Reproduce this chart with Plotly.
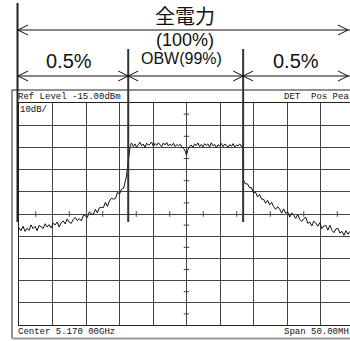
import plotly.graph_objects as go

# ---------------- data ----------------
# left skirt
skirt_l_f = [
    -25.0, -24.7, -24.4, -24.1, -23.8, -23.5, -23.2, -22.9, -22.6, -22.3,
    -22.0, -21.7, -21.4, -21.1, -20.8, -20.5, -20.2, -19.9, -19.6, -19.3,
    -19.0, -18.7, -18.4, -18.1, -17.8, -17.5, -17.2, -16.9, -16.6, -16.3,
    -16.0, -15.7, -15.4, -15.1, -14.8, -14.5, -14.2, -13.9, -13.6, -13.3,
    -13.0, -12.7, -12.4, -12.1, -11.8, -11.5, -11.2, -10.9, -10.6, -10.3,
    -10.0, -9.7, -9.4, -9.2, -9.0, -8.85, -8.7, -8.55, -8.4,
]
skirt_l_db = [
    -71.2, -72.5, -70.5, -72.8, -71.4, -72.4, -69.9, -71.6, -70.6, -72.5,
    -70.1, -70.7, -71.5, -69.4, -70.9, -69.8, -71.3, -69.2, -69.9, -68.6,
    -70.9, -68.9, -68.1, -69.5, -67.2, -68.8, -69.2, -67.4, -66.6, -68.0,
    -67.1, -68.1, -65.7, -65.8, -66.6, -64.0, -65.0, -65.1, -62.9, -64.5,
    -62.2, -62.0, -62.1, -59.7, -61.6, -59.1, -57.9, -58.3, -58.0, -55.2,
    -56.0, -53.8, -53.4, -51.0, -48.6, -45.2, -40.6, -36.4, -34.2,
]
# occupied band (flat top)
band_f = [
    -8.2, -7.95, -7.7, -7.45, -7.2, -6.95, -6.7, -6.45, -6.2, -5.95,
    -5.7, -5.45, -5.2, -4.95, -4.7, -4.45, -4.2, -3.95, -3.7, -3.45,
    -3.2, -2.95, -2.7, -2.45, -2.2, -1.95, -1.7, -1.45, -1.2, -0.95,
    -0.7, -0.45, -0.2, 0.0, 0.2, 0.45, 0.7, 0.95, 1.2, 1.45,
    1.7, 1.95, 2.2, 2.45, 2.7, 2.95, 3.2, 3.45, 3.7, 3.95,
    4.2, 4.45, 4.7, 4.95, 5.2, 5.45, 5.7, 5.95, 6.2, 6.45,
    6.7, 6.95, 7.2, 7.45, 7.7, 7.95, 8.2, 8.4,
]
band_db = [
    -33.0, -34.6, -33.4, -34.9, -33.8, -32.7, -34.3, -33.5, -35.0, -33.1,
    -34.0, -33.6, -32.6, -34.5, -33.2, -34.1, -32.9, -33.8, -34.7, -33.0,
    -33.9, -32.8, -34.4, -33.5, -34.2, -33.1, -34.6, -33.7, -34.3, -33.6,
    -34.9, -35.3, -36.6, -38.6, -36.0, -34.7, -33.9, -35.0, -33.5, -34.2,
    -33.0, -34.6, -33.7, -34.9, -33.3, -34.1, -33.4, -34.8, -32.9, -34.3,
    -33.6, -35.0, -33.8, -34.4, -33.2, -34.7, -33.5, -34.0, -35.1, -33.7,
    -34.5, -33.3, -34.8, -33.9, -34.3, -33.4, -34.6, -33.8,
]
# right skirt
skirt_r_f = [
    8.45, 8.5, 8.8, 9.1, 9.4, 9.7, 10.0, 10.3, 10.6, 10.9,
    11.2, 11.5, 11.8, 12.1, 12.4, 12.7, 13.0, 13.3, 13.6, 13.9,
    14.2, 14.5, 14.8, 15.1, 15.4, 15.7, 16.0, 16.3, 16.6, 16.9,
    17.2, 17.5, 17.8, 18.1, 18.4, 18.7, 19.0, 19.3, 19.6, 19.9,
    20.2, 20.5, 20.8, 21.1, 21.4, 21.7, 22.0, 22.3, 22.6, 22.9,
    23.2, 23.5, 23.8, 24.1, 24.4,
]
skirt_r_db = [
    -48.5, -49.7, -51.5, -51.4, -53.2, -53.1, -55.5, -55.2, -57.3, -56.2,
    -58.3, -58.3, -60.2, -58.8, -60.9, -59.7, -61.7, -62.9, -61.7, -62.8,
    -64.6, -62.7, -64.7, -64.0, -66.4, -64.5, -65.6, -67.0, -65.2, -67.5,
    -68.3, -67.1, -66.5, -69.2, -68.6, -70.4, -68.2, -69.1, -70.5, -68.9,
    -71.6, -70.4, -70.2, -72.3, -70.1, -72.3, -73.4, -71.7, -71.5, -73.6,
    -72.8, -74.6, -72.5, -74.1, -72.8,
]
obw_edges_mhz = [-8.7, 8.45]          # OBW (99%) boundaries
span_start_mhz = -25.0                 # left edge of the screen
visible_end_mhz = 24.4                 # right edge that is visible
ref_level_dbm = -15.0
db_per_div = 10.0
n_div = 10

# tick marks at half divisions along the centre cross
half_x_ticks = [-22.5, -17.5, -12.5, -7.5, -2.5, 2.5, 7.5, 12.5, 17.5, 22.5]
half_y_ticks = [-20, -30, -40, -50, -60, -70, -80, -90, -100, -110]

title_top = "全電力"
title_pct = "(100%)"
lbl_side = "0.5%"
lbl_obw = "OBW(99%)"
txt_ref = "Ref Level -15.00dBm"
txt_det = "DET  Pos Pea"
txt_scale = "10dB/"
txt_center = "Center 5.170 00GHz"
txt_span = "Span 50.00MH"

# ---------------- layout geometry (pixels) ----------------
W, H = 350, 341
L, R, T, B = 19, 0, 103, 16
PW, PH = W - L - R, H - T - B


def PX(x):
    return (x - L) / PW


def PY(y):
    return (H - B - y) / PH


bottom_db = ref_level_dbm - db_per_div * n_div
centre_db = (ref_level_dbm + bottom_db) / 2

fig = go.Figure()

fig.add_trace(go.Scatter(
    x=skirt_l_f + band_f + skirt_r_f, y=skirt_l_db + band_db + skirt_r_db,
    mode="lines", line=dict(color="#111111", width=1),
    hoverinfo="skip", showlegend=False,
))
fig.add_trace(go.Scatter(
    x=half_x_ticks, y=[centre_db] * len(half_x_ticks), mode="markers",
    marker=dict(symbol="line-ns", size=4, line=dict(color="#444", width=1)),
    hoverinfo="skip", showlegend=False,
))
fig.add_trace(go.Scatter(
    x=[0] * len(half_y_ticks), y=half_y_ticks, mode="markers",
    marker=dict(symbol="line-ew", size=4, line=dict(color="#444", width=1)),
    hoverinfo="skip", showlegend=False,
))

shapes = []
blk = "#111111"
# outer screen frame
shapes.append(dict(type="line", xref="paper", yref="paper",
                   x0=PX(12), x1=PX(12), y0=PY(90), y1=PY(338.5),
                   line=dict(color="#222", width=1)))
shapes.append(dict(type="line", xref="paper", yref="paper",
                   x0=PX(12), x1=PX(351), y0=PY(90), y1=PY(90),
                   line=dict(color="#222", width=1)))
shapes.append(dict(type="line", xref="paper", yref="paper",
                   x0=PX(12), x1=PX(351), y0=PY(338.5), y1=PY(338.5),
                   line=dict(color="#9a9a9a", width=2)))
# total-power left boundary
shapes.append(dict(type="line", xref="paper", yref="paper",
                   x0=PX(17.5), x1=PX(17.5), y0=PY(3), y1=PY(222),
                   line=dict(color="#222", width=2)))
# OBW boundaries
for e in obw_edges_mhz:
    shapes.append(dict(type="line", xref="x", yref="paper",
                       x0=e, x1=e, y0=PY(49), y1=PY(222),
                       line=dict(color="#333", width=2)))

# arrows
for yy in (30, 76):
    shapes.append(dict(type="line", xref="paper", yref="paper",
                       x0=PX(18), x1=PX(351), y0=PY(yy), y1=PY(yy),
                       line=dict(color=blk, width=1)))


def chevron(xref, xanchor, yy, direction):
    d = -direction * 10
    return dict(type="path", xref=xref, yref="paper",
                xsizemode="pixel", ysizemode="pixel",
                xanchor=xanchor, yanchor=PY(yy),
                path=f"M {d},5 L 0,0 L {d},-5",
                line=dict(color=blk, width=1))


for yy in (30, 76):
    shapes.append(chevron("paper", PX(18), yy, -1))
    shapes.append(chevron("paper", PX(348), yy, 1))
for e in obw_edges_mhz:
    shapes.append(chevron("x", e, 76, 1))
    shapes.append(chevron("x", e, 76, -1))

ann = []
sans = "Liberation Sans, Arial, sans-serif"
mono = "Liberation Mono, DejaVu Sans Mono, monospace"


def text(t, x, y, size, family, xanchor="center"):
    ann.append(dict(text=t, x=PX(x), y=PY(y), xref="paper", yref="paper",
                    xanchor=xanchor, yanchor="middle", showarrow=False,
                    borderpad=0,
                    font=dict(size=size, family=family, color="#111")))


text(title_top, 185, 15, 20, "Noto Sans CJK JP, sans-serif")
text(title_pct, 185, 40, 18, sans)
text(lbl_side, 69, 61, 20, sans)
text(lbl_obw, 181, 58, 16, sans)
text(lbl_side, 296, 61, 20, sans)
text(txt_ref, 17, 96.5, 9, mono, "left")
text(txt_det, 350, 96.5, 9, mono, "right")
text(txt_scale, 19, 110, 9, mono, "left")
text(txt_center, 17, 332, 9, mono, "left")
text(txt_span, 350, 332, 9, mono, "right")

grid_col = "#444444"
fig.update_layout(
    width=W, height=H,
    margin=dict(l=L, r=R, t=T, b=B, pad=0),
    paper_bgcolor="white", plot_bgcolor="white",
    shapes=shapes, annotations=ann, showlegend=False,
    xaxis=dict(range=[span_start_mhz, visible_end_mhz], tick0=span_start_mhz, dtick=5,
               showgrid=True, gridcolor=grid_col, gridwidth=1,
               showticklabels=False, ticks="", zeroline=False,
               showline=True, mirror=True, linecolor="#222", linewidth=1,
               fixedrange=True),
    yaxis=dict(range=[bottom_db, ref_level_dbm], tick0=bottom_db, dtick=db_per_div,
               showgrid=True, gridcolor=grid_col, gridwidth=1,
               showticklabels=False, ticks="", zeroline=False,
               showline=True, mirror=False, linecolor="#222", linewidth=1,
               fixedrange=True),
)

fig.write_html(
    "out.html",
    config={"displayModeBar": False},
    post_script="document.body.style.margin='0';document.body.style.overflow='hidden';",
)
